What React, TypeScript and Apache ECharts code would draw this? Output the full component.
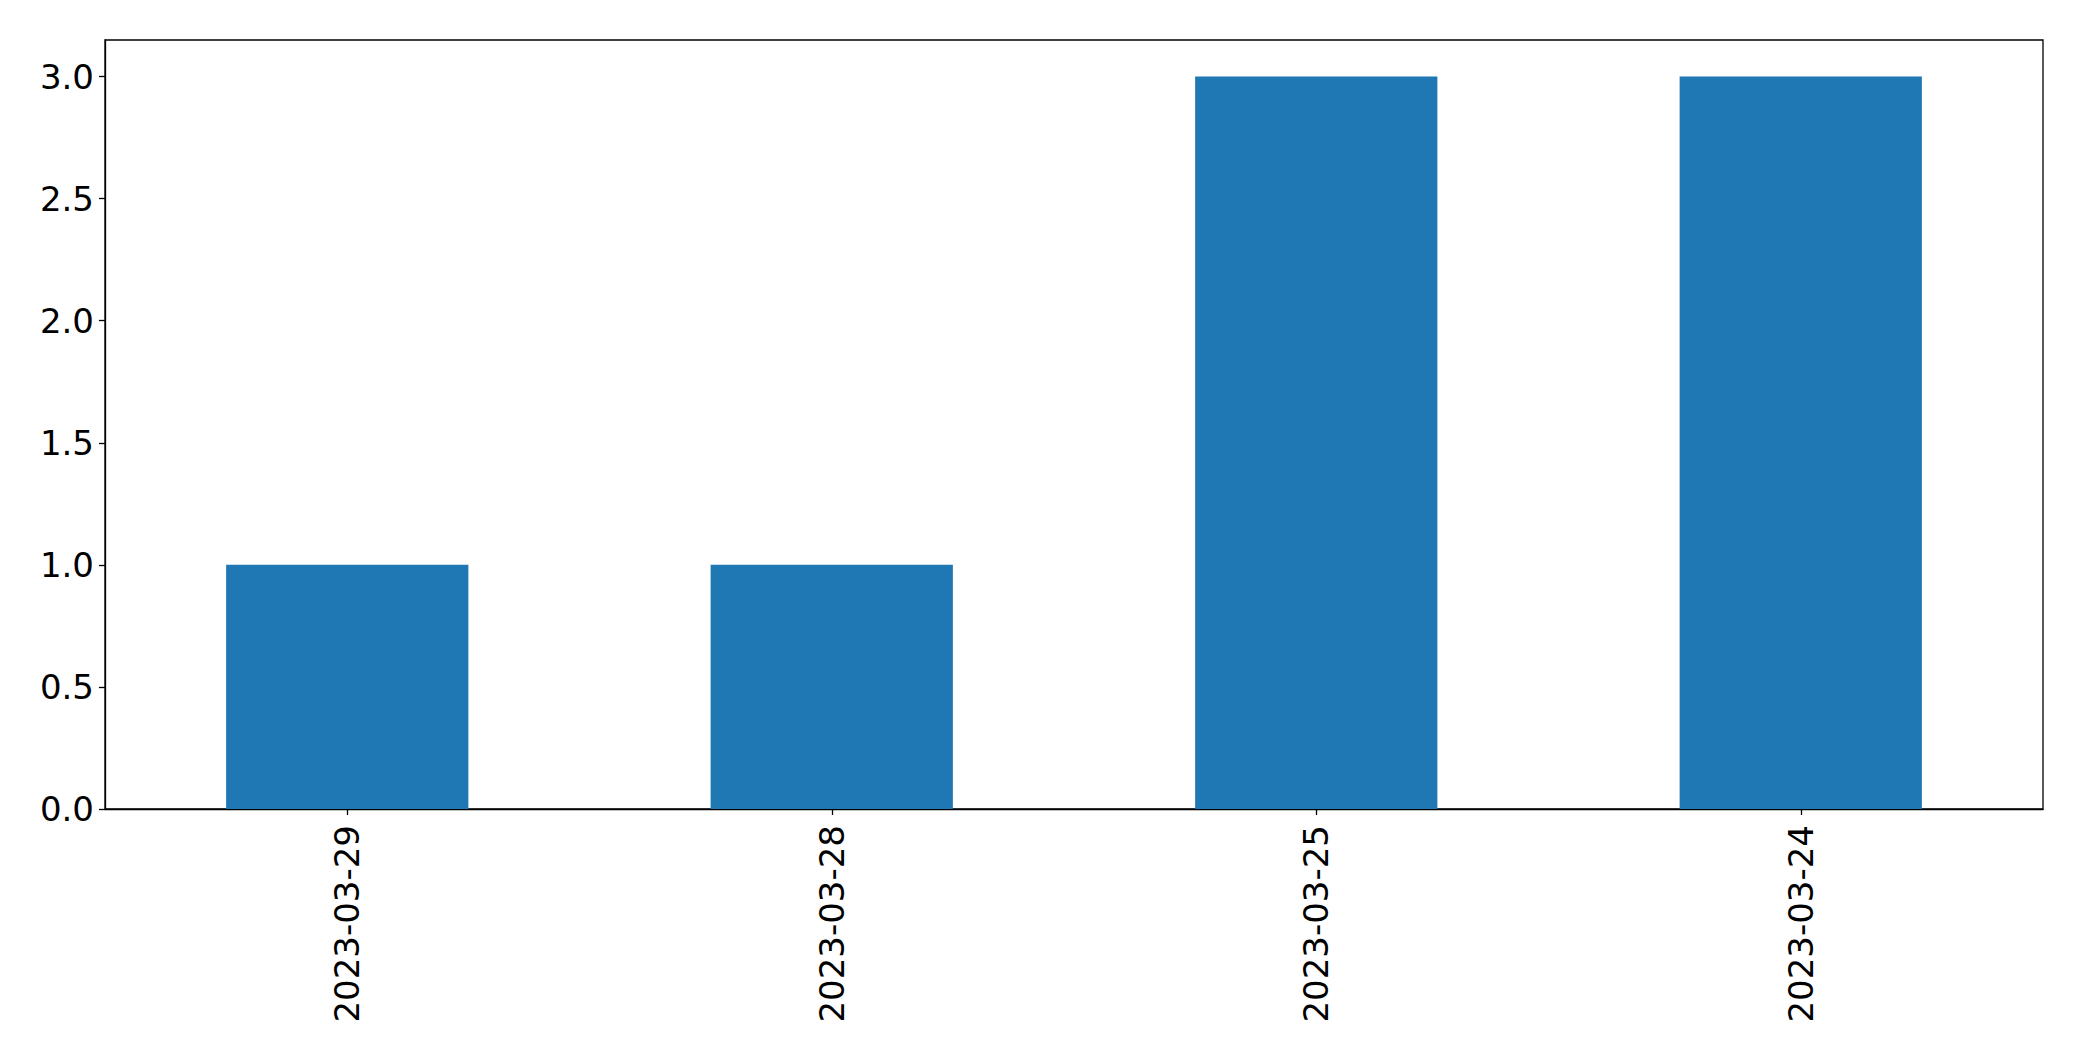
import React, { useEffect, useRef } from "react";
import * as echarts from "echarts";

const categories = ["2023-03-29", "2023-03-28", "2023-03-25", "2023-03-24"];
const counts = [1, 1, 3, 3];
const yTicks = [0, 0.5, 1.0, 1.5, 2.0, 2.5, 3.0];

export default function App() {
  const ref = useRef<HTMLDivElement>(null);
  useEffect(() => {
    if (!ref.current) return;
    const chart = echarts.init(ref.current, undefined, { renderer: "svg" });
    const font = "DejaVu Sans";
    chart.setOption({
      animation: false,
      backgroundColor: "#ffffff",
      grid: {
        left: 105,
        top: 40,
        right: 39,
        bottom: 252,
        show: true,
        borderColor: "#000000",
        borderWidth: 1.3,
        backgroundColor: "transparent",
      },
      xAxis: {
        type: "category",
        data: categories,
        boundaryGap: true,
        axisLine: { show: true, lineStyle: { color: "#000000", width: 1.3 } },
        axisTick: {
          show: true,
          alignWithLabel: true,
          length: 6,
          lineStyle: { color: "#000000", width: 1.3 },
        },
        axisLabel: {
          rotate: 90,
          margin: 16,
          color: "#000000",
          fontFamily: font,
          fontSize: 34,
        },
        splitLine: { show: false },
      },
      yAxis: {
        type: "value",
        min: 0,
        max: 3.15,
        interval: 0.5,
        axisLine: { show: true, lineStyle: { color: "#000000", width: 1.3 } },
        axisTick: {
          show: true,
          length: 6,
          customValues: yTicks,
          lineStyle: { color: "#000000", width: 1.3 },
        },
        axisLabel: {
          customValues: yTicks,
          margin: 11,
          color: "#000000",
          fontFamily: font,
          fontSize: 34,
          formatter: (v: number) => v.toFixed(1),
        },
        splitLine: { show: false },
      },
      series: [
        {
          type: "bar",
          data: counts,
          barWidth: "50%",
          itemStyle: { color: "#1f77b4" },
        },
      ],
    });
    return () => chart.dispose();
  }, []);
  return (
    <div
      ref={ref}
      style={{ position: "fixed", left: 0, top: 0, width: 2082, height: 1061, background: "#fff" }}
    />
  );
}
